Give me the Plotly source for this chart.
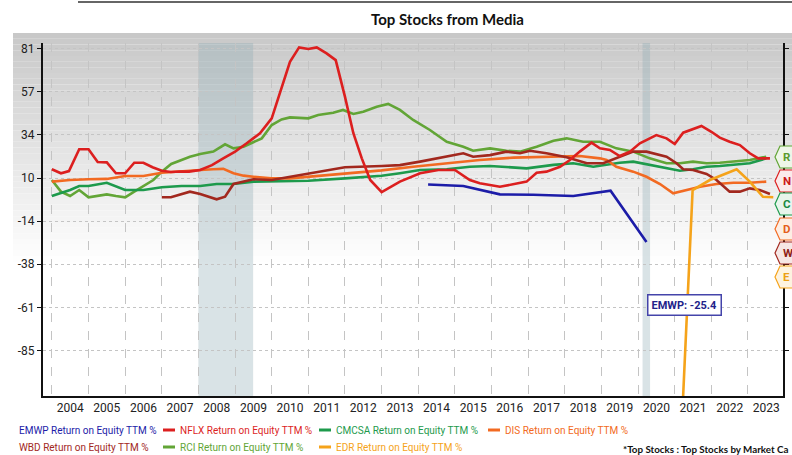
import plotly.graph_objects as go
from datetime import datetime, timedelta

# ---------------- data (decimal years, Return on Equity TTM %) ----------------
EMWP_x = [2014.27, 2015.23, 2016.23, 2017.14, 2018.23, 2019.25, 2020.23]
EMWP_y = [6.2, 5.4, 0.8, 0.6, -0.1, 2.8, -25.4]

NFLX_x = [2004.0, 2004.25, 2004.47, 2004.75, 2005.0, 2005.25, 2005.5, 2005.75, 2006.0, 2006.25,
          2006.5, 2006.75, 2007.0, 2007.25, 2007.5, 2007.75, 2008.05, 2008.37, 2008.68, 2009.0,
          2009.32, 2009.68, 2010.0, 2010.27, 2010.5, 2010.75, 2011.0, 2011.23, 2011.5, 2011.75,
          2012.0, 2012.23, 2012.46, 2012.69, 2013.0, 2013.5, 2014.05, 2014.55, 2015.0, 2015.41,
          2015.68, 2016.23, 2016.6, 2016.96, 2017.23, 2017.5, 2017.87, 2018.14, 2018.41, 2018.73,
          2018.96, 2019.23, 2019.5, 2019.78, 2020.05, 2020.5, 2020.78, 2021.0, 2021.23, 2021.5,
          2021.73, 2022.0, 2022.23, 2022.5, 2022.78, 2023.05, 2023.28, 2023.6]
NFLX_y = [14.6, 12.4, 13.6, 25.6, 25.6, 18.6, 18.4, 12.4, 12.4, 18.2,
          18.2, 15.7, 13.8, 13.1, 13.4, 13.3, 14.2, 16.9, 20.6, 24.3,
          28.9, 34.4, 42.6, 59.1, 73.7, 81.6, 80.7, 81.6, 78.3, 74.6,
          54.5, 34.4, 20.6, 8.7, 2.0, 7.8, 12.4, 14.2, 14.2, 8.7,
          6.9, 5.0, 6.5, 7.8, 12.7, 13.3, 16.0, 19.7, 24.3, 29.2,
          26.1, 25.2, 21.9, 24.3, 28.9, 33.4, 31.6, 28.5, 34.7, 36.7,
          38.4, 35.2, 32.0, 29.7, 27.9, 23.4, 20.6, 20.6]

CMCSA_x = [2004.0, 2004.5, 2004.75, 2005.0, 2005.5, 2005.75, 2006.0, 2006.5, 2007.0, 2007.54,
           2008.05, 2008.5, 2008.96, 2009.5, 2010.5, 2011.0, 2012.0, 2013.0, 2013.5, 2014.05,
           2014.78, 2015.41, 2015.96, 2016.41, 2016.96, 2017.69, 2018.23, 2018.78, 2019.5, 2019.87,
           2020.32, 2020.78, 2021.14, 2021.5, 2021.87, 2022.23, 2022.6, 2023.05, 2023.5]
CMCSA_y = [-0.1, 3.2, 5.4, 5.4, 7.2, 5.4, 3.2, 3.2, 4.7, 5.4,
           5.4, 6.5, 6.5, 7.8, 8.2, 8.3, 9.6, 11.0, 12.4, 14.2,
           14.6, 16.0, 16.4, 16.0, 15.1, 17.0, 17.9, 16.0, 18.2, 18.8,
           17.0, 15.1, 13.8, 14.6, 16.0, 16.4, 16.9, 17.9, 20.6]

DIS_x = [2004.0, 2004.5, 2005.0, 2005.5, 2006.0, 2006.5, 2007.0, 2007.54, 2008.05, 2008.41,
         2008.68, 2008.96, 2009.23, 2009.5, 2010.0, 2010.5, 2011.0, 2012.0, 2013.0, 2013.86,
         2014.78, 2015.68, 2016.6, 2017.5, 2018.41, 2018.96, 2019.14, 2019.41, 2019.87, 2020.23,
         2020.6, 2020.96, 2021.32, 2021.69, 2022.14, 2022.6, 2023.05, 2023.5]
DIS_y = [7.8, 8.7, 9.1, 9.3, 10.9, 10.9, 12.7, 13.6, 14.2, 14.6,
         14.8, 12.4, 11.1, 10.5, 9.6, 9.6, 10.5, 12.4, 14.0, 16.0,
         17.9, 19.7, 21.0, 21.5, 21.9, 20.6, 19.7, 16.0, 13.3, 10.5,
         6.5, 1.4, 3.2, 5.0, 6.5, 7.2, 7.2, 7.8]

WBD_x = [2007.0, 2007.25, 2007.77, 2008.05, 2008.5, 2008.73, 2008.96, 2009.23, 2009.5, 2010.0,
         2010.5, 2011.0, 2011.5, 2012.0, 2013.0, 2013.5, 2014.05, 2014.78, 2015.23, 2015.5,
         2015.96, 2016.41, 2016.78, 2017.05, 2017.5, 2018.05, 2018.6, 2019.05, 2019.5, 2019.87,
         2020.23, 2020.78, 2021.05, 2021.23, 2021.5, 2021.87, 2022.14, 2022.5, 2022.78, 2023.05,
         2023.32, 2023.6]
WBD_y = [-0.8, -0.8, 2.3, 1.0, -1.9, -0.5, 6.5, 7.8, 9.1, 8.7,
         10.5, 12.4, 14.2, 15.7, 16.4, 16.9, 18.8, 21.5, 23.4, 21.5,
         22.4, 24.3, 23.4, 24.8, 23.4, 21.2, 17.9, 17.9, 21.5, 24.3,
         24.3, 21.5, 17.9, 14.6, 14.2, 12.0, 8.7, 2.3, 2.3, 4.1,
         3.2, 1.0]

RCI_x = [2004.0, 2004.25, 2004.5, 2004.75, 2005.0, 2005.5, 2005.75, 2006.0, 2006.25, 2006.5,
         2006.77, 2007.0, 2007.26, 2007.54, 2007.77, 2008.05, 2008.41, 2008.73, 2008.96, 2009.23,
         2009.5, 2009.73, 2010.0, 2010.27, 2010.5, 2011.0, 2011.27, 2011.68, 2011.95, 2012.23,
         2012.5, 2012.87, 2013.18, 2013.5, 2013.86, 2014.32, 2014.78, 2015.23, 2015.5, 2015.96,
         2016.41, 2016.78, 2017.23, 2017.69, 2018.05, 2018.5, 2018.96, 2019.41, 2019.87, 2020.32,
         2020.78, 2021.14, 2021.5, 2021.87, 2022.23, 2022.6, 2023.05, 2023.5]
RCI_y = [8.7, 2.3, -0.1, 3.2, -0.8, 0.8, -0.1, -0.8, 2.3, 5.4,
         8.7, 13.3, 17.5, 19.7, 21.5, 23.0, 24.3, 28.3, 26.1, 27.0,
         29.7, 31.6, 38.9, 42.0, 43.1, 42.6, 44.4, 45.7, 47.2, 45.0,
         46.2, 49.0, 50.5, 47.2, 41.7, 36.2, 29.7, 27.0, 24.8, 26.1,
         24.8, 24.3, 27.0, 30.3, 31.6, 29.7, 29.7, 26.1, 24.3, 20.6,
         17.9, 17.9, 18.8, 17.9, 18.2, 18.8, 19.7, 21.5]

EDR_x = [2021.0, 2021.49, 2021.96, 2022.32, 2022.69, 2023.05, 2023.41, 2023.69]
EDR_y = [-210.0, 3.2, 8.7, 11.4, 14.6, 7.8, -0.5, -0.8]

y_tick_vals = [80.9, 57.2, 33.5, 9.8, -13.9, -37.6, -61.3, -85.0]
y_tick_text = ["81", "57", "34", "10", "-14", "-38", "-61", "-85"]

recessions = [("2008-01-01", "2009-06-30"), ("2020-02-15", "2020-04-30")]

series = [
    ("EMWP", EMWP_x, EMWP_y, "#1c1ca8"),
    ("NFLX", NFLX_x, NFLX_y, "#dc1f1f"),
    ("CMCSA", CMCSA_x, CMCSA_y, "#1d9a4c"),
    ("DIS", DIS_x, DIS_y, "#f26a22"),
    ("WBD", WBD_x, WBD_y, "#a2281e"),
    ("RCI", RCI_x, RCI_y, "#62a536"),
    ("EDR", EDR_x, EDR_y, "#f5a31a"),
]


def to_date(f):
    yr = int(f)
    d = datetime(yr, 1, 1) + timedelta(days=(f - yr) * 365.25)
    return d.strftime("%Y-%m-%d")


# pixel -> paper helpers (plot area 43..783 x, 43..396 y)
L, R, T, B = 43, 783, 43, 396
W, H = 792, 455


def px(x):
    return (x - L) / (R - L)


def py(y):
    return (B - y) / (B - T)


fig = go.Figure()

for name, xs, ys, col in [series[i] for i in (5, 2, 3, 4, 1, 6, 0)]:
    fig.add_trace(go.Scatter(
        x=[to_date(v) for v in xs], y=ys, mode="lines", name=name,
        line=dict(color=col, width=2.6), showlegend=False,
        hovertemplate=name + ": %{y:.1f}<extra></extra>"))

shapes = []
# background gradient (grey at top fading to white)
n = 40
top_px, bot_px = 33, 262
for i in range(n):
    y0 = top_px + (bot_px - top_px) * i / n
    y1 = top_px + (bot_px - top_px) * (i + 1) / n
    c = int(200 + (255 - 200) * (i + 0.5) / n)
    shapes.append(dict(type="rect", xref="paper", yref="paper",
                       x0=px(13), x1=px(792), y0=py(y1), y1=py(y0),
                       fillcolor=f"rgb({c},{c},{c})", line=dict(width=0), layer="below"))
# recession bands
for a, b in recessions:
    shapes.append(dict(type="rect", xref="x", yref="paper", x0=a, x1=b, y0=0, y1=1,
                       fillcolor="rgba(140,170,180,0.33)", line=dict(width=0), layer="below"))
# top rule
shapes.append(dict(type="line", xref="paper", yref="paper", x0=px(78), x1=px(792),
                   y0=py(2), y1=py(2), line=dict(color="#333333", width=1.6)))

FONT = "Roboto, Liberation Sans, sans-serif"
annotations = []
annotations.append(dict(text="<b>Top Stocks from Media</b>", xref="paper", yref="paper",
                        x=px(448), y=py(19), xanchor="center", yanchor="middle", showarrow=False,
                        font=dict(family="Lato, sans-serif", size=15, color="#111111")))

leg_items = [
    ("EMWP", 17, 430, False), ("NFLX", 178, 430, True), ("CMCSA", 334, 430, True), ("DIS", 503, 430, True),
    ("WBD", 17, 447, False), ("RCI", 178, 447, True), ("EDR", 334, 447, True),
]
colmap = {s[0]: s[3] for s in series}
for name, xl, yc, dash in leg_items:
    col = colmap[name]
    annotations.append(dict(text=f"{name} Return on Equity TTM %", xref="paper", yref="paper",
                            x=px(xl), y=py(yc), xanchor="left", yanchor="middle", showarrow=False,
                            font=dict(family=FONT, size=10, color=col)))
    if dash:
        shapes.append(dict(type="line", xref="paper", yref="paper", x0=px(xl - 15), x1=px(xl - 3),
                           y0=py(yc), y1=py(yc), line=dict(color=col, width=3)))

annotations.append(dict(text="<b>*Top Stocks : Top Stocks by Market Ca</b>", xref="paper", yref="paper",
                        x=px(621), y=py(449), xanchor="left", yanchor="middle", showarrow=False,
                        font=dict(family="Lato, sans-serif", size=9.8, color="#111111")))

tags = [("R", "RCI", 157, "#eef6e8", "#5a9a2e"),
        ("N", "NFLX", 181, "#fbeaea", "#cc1a1a"),
        ("C", "CMCSA", 204, "#e8f5ec", "#1a8a42"),
        ("D", "DIS", 229, "#fdeee4", "#e4601c"),
        ("W", "WBD", 253, "#f6e7e5", "#8e2218"),
        ("E", "EDR", 277, "#fdf3e0", "#eca014")]
for letter, name, yc, fill, tcol in tags:
    bcol = colmap[name]
    path = (f"M {px(775)},{py(yc)} L {px(780)},{py(yc - 11)} L {px(800)},{py(yc - 11)} "
            f"L {px(800)},{py(yc + 11)} L {px(780)},{py(yc + 11)} Z")
    shapes.append(dict(type="path", xref="paper", yref="paper", path=path,
                       fillcolor=fill, line=dict(color=bcol, width=1.2)))
    annotations.append(dict(text=f"<b>{letter}</b>", xref="paper", yref="paper",
                            x=px(781), y=py(yc), xanchor="left", yanchor="middle", showarrow=False,
                            font=dict(family=FONT, size=11.5, color=tcol)))

annotations.append(dict(text="<b>EMWP: -25.4</b>", xref="paper", yref="paper",
                        x=px(684), y=py(305), xanchor="center", yanchor="middle", showarrow=False,
                        bgcolor="#ffffff", bordercolor="#4444aa", borderwidth=1.5, borderpad=3,
                        font=dict(family=FONT, size=11, color="#22228a")))

tick_font = dict(family=FONT, size=12, color="#222222")

fig.update_layout(
    width=W, height=H,
    margin=dict(l=L, r=W - R, t=T, b=H - B, pad=0, autoexpand=False),
    paper_bgcolor="#ffffff", plot_bgcolor="rgba(0,0,0,0)",
    shapes=shapes, annotations=annotations, showlegend=False,
    xaxis=dict(type="date", range=["2003-10-05", "2023-12-16"], dtick="M12", tick0="2004-01-01",
               tickformat="%Y", ticklabelmode="period", showgrid=True, gridcolor="#c4c4c4",
               griddash="dash", gridwidth=1, showline=True, linecolor="#111111", linewidth=2,
               ticks="", tickfont=tick_font, zeroline=False, fixedrange=True, automargin=False),
    yaxis=dict(range=[-110, 84], tickvals=y_tick_vals, ticktext=y_tick_text, showgrid=True,
               gridcolor="#c4c4c4", griddash="dot", gridwidth=1, showline=True, linecolor="#111111",
               linewidth=2, mirror="ticks", ticks="outside", ticklen=4, tickcolor="#111111",
               tickfont=tick_font, zeroline=False, fixedrange=True, automargin=False),
)

fig.write_html("out.html", config={"displayModeBar": False},
               post_script="document.body.style.margin='0';document.body.style.overflow='hidden';")
